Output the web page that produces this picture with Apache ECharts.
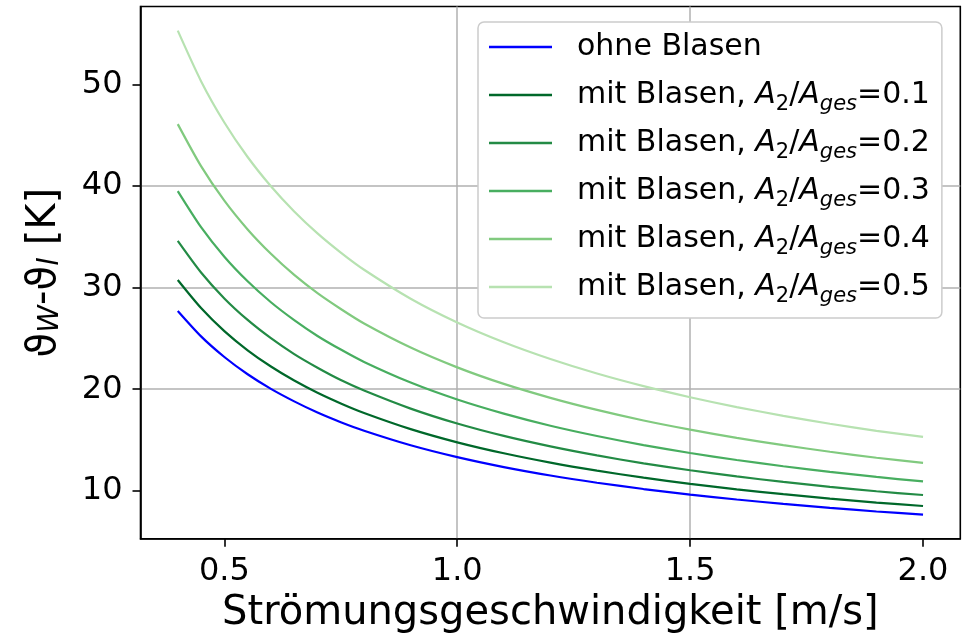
<!DOCTYPE html>
<html>
<head>
<meta charset="utf-8">
<script src="https://cdn.jsdelivr.net/npm/echarts@6/dist/echarts.min.js"></script>
<style>
  html, body { margin: 0; padding: 0; background: #ffffff; }
  #chart { width: 967px; height: 637px; }
</style>
</head>
<body>
<div id="chart"></div>
<script>
// Flow velocity [m/s]
const speed = [0.4, 0.45, 0.5, 0.55, 0.6, 0.65, 0.7, 0.75, 0.8, 0.9, 1.0, 1.1, 1.2, 1.3, 1.4, 1.5, 1.6, 1.7, 1.8, 1.9, 2.0];

// Wall-to-liquid temperature difference [K]
const ohneBlasen = [27.7, 25.2, 23.17, 21.47, 20.03, 18.8, 17.7, 16.75, 15.91, 14.48, 13.31, 12.33, 11.5, 10.79, 10.17, 9.62, 9.14, 8.71, 8.32, 7.96, 7.65];
const blasen01 = [30.75, 27.99, 25.72, 23.83, 22.23, 20.85, 19.65, 18.6, 17.66, 16.07, 14.77, 13.69, 12.77, 11.98, 11.29, 10.68, 10.14, 9.66, 9.23, 8.84, 8.5];
const blasen02 = [34.6, 31.49, 28.94, 26.82, 25.02, 23.45, 22.11, 20.9, 19.87, 18.09, 16.62, 15.4, 14.37, 13.48, 12.7, 12.02, 11.41, 10.87, 10.39, 9.95, 9.58];
const blasen03 = [39.5, 35.95, 33.04, 30.62, 28.56, 26.8, 25.24, 23.9, 22.68, 20.65, 18.98, 17.59, 16.4, 15.39, 14.5, 13.72, 13.03, 12.41, 11.86, 11.36, 10.92];
const blasen04 = [46.1, 41.96, 38.56, 35.73, 33.33, 31.25, 29.46, 27.9, 26.47, 24.1, 22.15, 20.52, 19.15, 17.96, 16.92, 16.02, 15.21, 14.49, 13.84, 13.25, 12.75];
const blasen05 = [55.3, 50.33, 46.26, 42.86, 39.98, 37.5, 35.34, 33.45, 31.76, 28.91, 26.57, 24.62, 22.97, 21.54, 20.3, 19.21, 18.24, 17.38, 16.6, 15.9, 15.3];

// Area fractions A2/Ages of the bubble cases
const flaechenAnteil = ['0.1', '0.2', '0.3', '0.4', '0.5'];

const xTicks = [0.5, 1.0, 1.5, 2.0];
const yTicks = [10, 20, 30, 40, 50];

const FONT = 'DejaVu Sans';
const lineColors = ['#0000ff', '#00682a', '#238b45', '#48ae60', '#81ca7f', '#b7e2b1'];

const seriesValues = [ohneBlasen, blasen01, blasen02, blasen03, blasen04, blasen05];
const seriesNames = ['ohne Blasen'].concat(flaechenAnteil.map(a => 'mit Blasen, A2/Ages=' + a));

const series = seriesValues.map((vals, k) => ({
  name: seriesNames[k],
  type: 'line',
  data: speed.map((x, i) => [x, vals[i]]),
  symbol: 'none',
  showSymbol: false,
  smooth: 0.25,
  lineStyle: { color: lineColors[k], width: 2.2 },
  itemStyle: { color: lineColors[k] },
  z: 3 + k
}));

function legendLabel(name) {
  if (name.indexOf('mit Blasen') === 0) {
    const a = name.split('=')[1];
    return '{g| }{t|mit Blasen, }{i|A}{s|2}{t|/}{i|A}{si|ges}{t|=' + a + '}';
  }
  return '{g| }{t|' + name + '}';
}

const chart = echarts.init(document.getElementById('chart'), null, { renderer: 'canvas' });

chart.setOption({
  animation: false,
  backgroundColor: '#ffffff',
  textStyle: { fontFamily: FONT },
  grid: {
    left: 140.5, right: 6.7, top: 6.5, bottom: 98.2,
    show: true, borderColor: '#000000', borderWidth: 1.6,
    containLabel: false, outerBoundsMode: 'none'
  },
  xAxis: {
    type: 'value',
    min: 0.32, max: 2.08,
    minInterval: 0.5, maxInterval: 0.5,
    name: 'Strömungsgeschwindigkeit [m/s]',
    nameLocation: 'middle',
    nameGap: 55,
    nameTextStyle: { fontFamily: FONT, fontSize: 40, color: '#000', lineHeight: 40 },
    axisLine: { show: true, onZero: false, lineStyle: { color: '#000', width: 1.6 } },
    axisTick: { show: true, inside: false, length: 8, lineStyle: { color: '#000', width: 1.6 }, customValues: xTicks },
    axisLabel: {
      show: true, margin: 17, color: '#000', fontFamily: FONT, fontSize: 32,
      customValues: xTicks, formatter: v => Number(v).toFixed(1)
    },
    splitLine: { show: true, showMinLine: false, showMaxLine: false, lineStyle: { color: '#b0b0b0', width: 1.5 } }
  },
  yAxis: {
    type: 'value',
    min: 5.27, max: 57.68,
    minInterval: 10, maxInterval: 10,
    name: '{m|ϑ}{s|W}{m|-ϑ}{s|l}{m| [K]}',
    nameLocation: 'middle',
    nameRotate: 90,
    nameGap: 76,
    nameTextStyle: {
      fontFamily: FONT, fontSize: 40, color: '#000', lineHeight: 40,
      rich: {
        m: { fontFamily: FONT, fontSize: 40, lineHeight: 40, color: '#000' },
        s: { fontFamily: FONT, fontSize: 28, lineHeight: 14, verticalAlign: 'bottom', fontStyle: 'italic', color: '#000' }
      }
    },
    axisLine: { show: true, onZero: false, lineStyle: { color: '#000', width: 1.6 } },
    axisTick: { show: true, inside: false, length: 8, lineStyle: { color: '#000', width: 1.6 }, customValues: yTicks },
    axisLabel: { show: true, margin: 18, color: '#000', fontFamily: FONT, fontSize: 32, customValues: yTicks },
    splitLine: { show: true, showMinLine: false, showMaxLine: false, lineStyle: { color: '#b0b0b0', width: 1.5 } }
  },
  legend: {
    orient: 'vertical',
    left: 478, top: 22,
    padding: [5, 12, 11, 11],
    itemGap: 8,
    itemWidth: 63,
    itemHeight: 2.5,
    icon: 'rect',
    itemStyle: { borderWidth: 0 },
    backgroundColor: '#ffffff',
    borderColor: '#cccccc',
    borderWidth: 1.5,
    borderRadius: 6,
    selectedMode: false,
    data: seriesNames,
    formatter: legendLabel,
    textStyle: {
      fontFamily: FONT, fontSize: 30, color: '#000', lineHeight: 40,
      rich: {
        g: { width: 20, fontFamily: FONT, fontSize: 30, lineHeight: 40 },
        t: { fontFamily: FONT, fontSize: 30, lineHeight: 40, color: '#000' },
        i: { fontFamily: FONT, fontSize: 30, lineHeight: 40, fontStyle: 'italic', color: '#000' },
        s: { fontFamily: FONT, fontSize: 21, lineHeight: 20, verticalAlign: 'bottom', color: '#000' },
        si: { fontFamily: FONT, fontSize: 21, lineHeight: 20, verticalAlign: 'bottom', fontStyle: 'italic', color: '#000' }
      }
    }
  },
  series: series
});
</script>
</body>
</html>
